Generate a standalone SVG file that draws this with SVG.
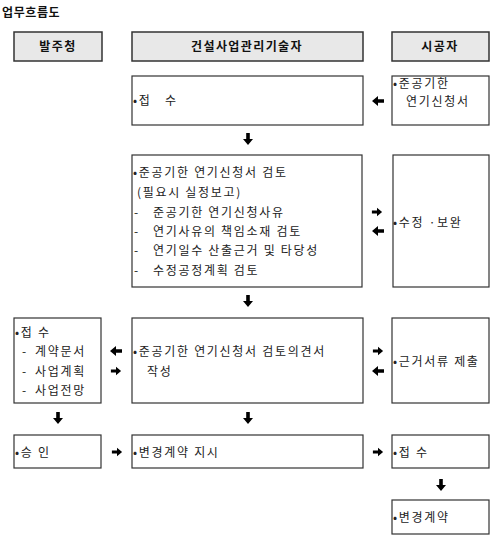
<svg xmlns="http://www.w3.org/2000/svg" xmlns:xlink="http://www.w3.org/1999/xlink" width="502" height="557" viewBox="0 0 502 557">
<style>
text{font-family:"Noto Sans CJK KR","Noto Sans",sans-serif;font-size:12px;fill:#222;letter-spacing:1.7px}
.h{font-weight:bold;text-anchor:middle;fill:#111;letter-spacing:1.4px}
.t{font-weight:bold;fill:#111;letter-spacing:0.6px}
.hb{fill:#e8e8e8;stroke:#333;stroke-width:1.5}
.b{fill:#fff;stroke:#333;stroke-width:1.2}
.ar{fill:#000}
</style>
<defs>
<path id="ar" d="M-6,-1.8 H0 V-5 L6,0 L0,5 V1.8 H-6 Z"/>
</defs>
<rect width="502" height="557" fill="#fff"/>
<text class="t" x="2" y="17">업무흐름도</text>

<g id="h1"><rect class="hb" x="14" y="32" width="88" height="29"/><text class="h" x="58" y="51">발주청</text></g>
<g id="h2"><rect class="hb" x="132" y="32" width="231" height="29"/><text class="h" x="247" y="51">건설사업관리기술자</text></g>
<g id="h3"><rect class="hb" x="392" y="32" width="97" height="29"/><text class="h" x="440" y="51">시공자</text></g>

<g id="n1"><rect class="b" x="132" y="76" width="231" height="49"/><text x="133" y="105">•접<tspan x="165">수</tspan></text></g>
<g id="n2"><rect class="b" x="392" y="76" width="97" height="49"/><text x="393" y="87.5">•준공기한</text><text x="406" y="105.5">연기신청서</text></g>

<g id="n3"><rect class="b" x="132" y="155" width="230" height="132"/>
<text x="133" y="176.5">•준공기한 연기신청서 검토</text>
<text x="137" y="197">(필요시 실정보고)</text>
<text x="134" y="216.5">-<tspan x="153">준공기한 연기신청사유</tspan></text>
<text x="134" y="235.5">-<tspan x="153">연기사유의 책임소재 검토</tspan></text>
<text x="134" y="254.5">-<tspan x="153">연기일수 산출근거 및 타당성</tspan></text>
<text x="134" y="274.5">-<tspan x="153">수정공정계획 검토</tspan></text>
</g>
<g id="n4"><rect class="b" x="393" y="155" width="96" height="132"/><text x="393" y="226.5">•수정 ·보완</text></g>

<g id="n5"><rect class="b" x="14" y="318" width="87" height="85"/>
<text x="15" y="336.5">•접 수</text>
<text x="22" y="355.5">-<tspan x="35">계약문서</tspan></text>
<text x="22" y="375.5">-<tspan x="35">사업계획</tspan></text>
<text x="22" y="394.5">-<tspan x="35">사업전망</tspan></text>
</g>
<g id="n6"><rect class="b" x="132" y="318" width="231" height="85"/>
<text x="133" y="355.5">•준공기한 연기신청서 검토의견서</text>
<text x="147" y="375.5">작성</text>
</g>
<g id="n7"><rect class="b" x="392" y="318" width="97" height="85"/><text x="393" y="365.5">•근거서류 제출</text></g>

<g id="n8"><rect class="b" x="14" y="435" width="87" height="33"/><text x="15" y="456.5">•승 인</text></g>
<g id="n9"><rect class="b" x="132" y="435" width="231" height="33"/><text x="133" y="456.5">•변경계약 지시</text></g>
<g id="n10"><rect class="b" x="392" y="435" width="97" height="33"/><text x="393" y="456.5">•접 수</text></g>
<g id="n11"><rect class="b" x="392" y="500" width="97" height="34"/><text x="393" y="521.5">•변경계약</text></g>

<g id="connectors" class="ar">
<use xlink:href="#ar" transform="translate(378,101) rotate(180)"/>
<use xlink:href="#ar" transform="translate(248,139) rotate(90)"/>
<use xlink:href="#ar" transform="translate(377,212) scale(0.85)"/>
<use xlink:href="#ar" transform="translate(378,231) rotate(180)"/>
<use xlink:href="#ar" transform="translate(248,301) rotate(90)"/>
<use xlink:href="#ar" transform="translate(116,351) rotate(180)"/>
<use xlink:href="#ar" transform="translate(116,371) scale(0.85)"/>
<use xlink:href="#ar" transform="translate(378,351) scale(0.85)"/>
<use xlink:href="#ar" transform="translate(378,371) rotate(180)"/>
<use xlink:href="#ar" transform="translate(58,418) rotate(90)"/>
<use xlink:href="#ar" transform="translate(248,418) rotate(90)"/>
<use xlink:href="#ar" transform="translate(117,452) scale(0.85)"/>
<use xlink:href="#ar" transform="translate(378,452) scale(0.85)"/>
<use xlink:href="#ar" transform="translate(441,485) rotate(90)"/>
</g>
</svg>
